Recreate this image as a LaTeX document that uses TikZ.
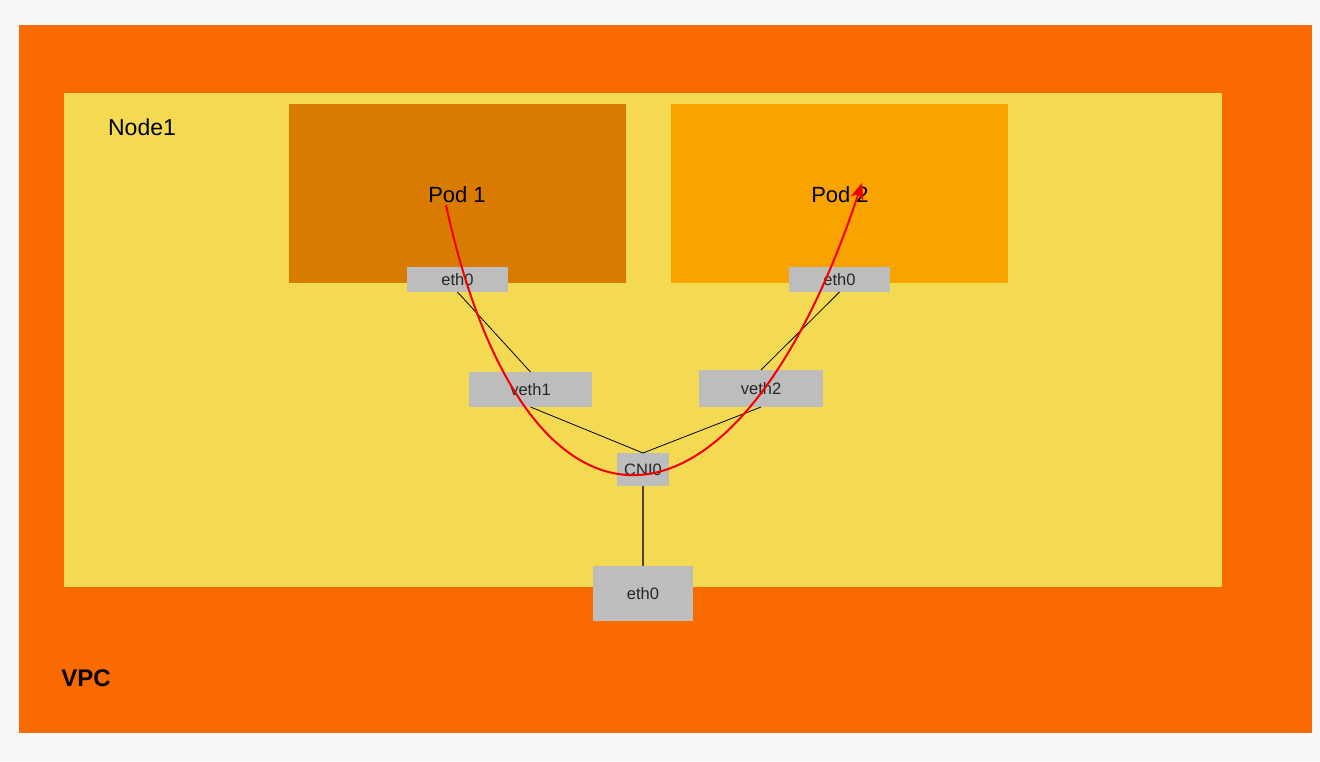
\documentclass[tikz,border=0pt]{standalone}
\usepackage{fontspec}
\setmainfont{Liberation Sans}
\usetikzlibrary{arrows.meta,positioning}
\definecolor{pagegray}{HTML}{F8F8F8}
\definecolor{vpcorange}{HTML}{F96A00}
\definecolor{nodeyellow}{HTML}{F4DA52}
\definecolor{podone}{HTML}{D97B00}
\definecolor{podtwo}{HTML}{F9A300}
\definecolor{ifgray}{HTML}{BDBDBD}
\definecolor{flowred}{HTML}{F20000}

\begin{document}
\begin{tikzpicture}[
  x=1pt, y=-1pt,
  font=\fontsize{16.5}{18}\selectfont,
  zone/.style={inner sep=0pt, outer sep=0pt},
  pod/.style={zone, minimum width=337pt, minimum height=179pt},
  iface/.style={zone, fill=ifgray, text=black!85},
  link/.style={draw=black, line width=0.8pt},
  flow/.style={-{Stealth[length=16pt,width=13pt,inset=4pt]}, draw=flowred, line width=2pt}
]
% page and outer areas
\fill[pagegray] (0,0) rectangle (1320,761);
\useasboundingbox (0,0) rectangle (1320,761);
\node[zone, fill=vpcorange, minimum width=1293pt, minimum height=708pt] (vpc) at (665.5,379) {};
\node[zone, fill=nodeyellow, minimum width=1158pt, minimum height=494pt] (node1) at (643,340) {};
\node[font=\fontsize{23}{24}\selectfont] (node1lbl) at (142,127) {Node1};
\node[font=\fontsize{24}{26}\selectfont\bfseries] (vpclbl) at (86,678) {VPC};

% pods
\node[pod, fill=podone] (pod1) at (457.5,193.5) {};
\node[pod, fill=podtwo] (pod2) at (839.5,193.5) {};
\node[font=\fontsize{22}{24}\selectfont] (pod1lbl) at (457,195) {Pod 1};
\node[font=\fontsize{22}{24}\selectfont] (pod2lbl) at (840,195) {Pod 2};

% interfaces
\node[iface, minimum width=101pt, minimum height=25pt] (eth1) at (457.5,279.5) {eth0};
\node[iface, minimum width=101pt, minimum height=25pt] (eth2) at (839.5,279.5) {eth0};
\node[iface, minimum width=123pt, minimum height=35pt] (veth1) at (530.5,389.5) {veth1};
\node[iface, minimum width=124pt, minimum height=37pt] (veth2) at (761,388.5) {veth2};
\node[iface, minimum width=52pt, minimum height=33pt] (cni) at (643,469.5) {CNI0};
\node[iface, minimum width=100pt, minimum height=55pt] (hosteth) at (643,593.5) {eth0};

\draw[link] (eth1.south) -- (veth1.north);
\draw[link] (eth2.south) -- (veth2.north);
\draw[link] (veth1.south) -- (cni.north);
\draw[link] (veth2.south) -- (cni.north);
\draw[link, draw=black!70!yellow!60!black, line width=1.4pt] (cni.south) -- (hosteth.north);

% traffic path
\coordinate (flowstart) at (446,205);
\coordinate (flowend) at (862,183);
\draw[flow] (flowstart) .. controls (525,569) and (735,565) .. (flowend);
\end{tikzpicture}
\end{document}
